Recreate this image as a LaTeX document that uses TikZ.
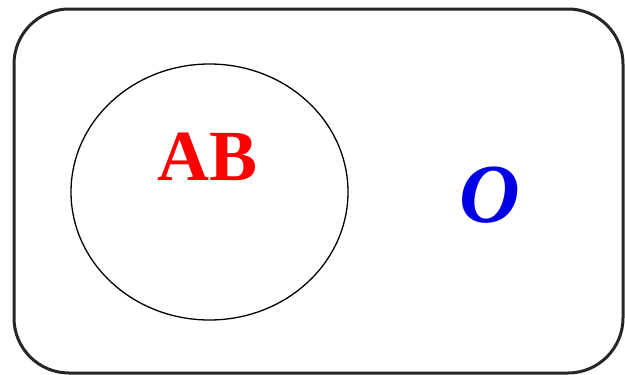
\documentclass[tikz,border=0pt]{standalone}
\usepackage{fontspec}
\setmainfont{Liberation Serif}
\usetikzlibrary{shapes.geometric}
\begin{document}
\begin{tikzpicture}[x=1pt,y=-1pt,
  frame/.style={draw=black!85,line width=3pt,rounded corners=55pt},
  setcirc/.style={draw=black,line width=1.3pt,ellipse,minimum width=277pt,minimum height=256pt,inner sep=0pt},
  lbl/.style={inner sep=0pt,anchor=center}]
\useasboundingbox (0,0) rectangle (625,375);
\fill[white] (0,0) rectangle (625,375);
\draw[frame] (14,9) rectangle (623,373);
\node[setcirc] (A) at (209.5,192) {};
\node[lbl,text=red] (ab) at (208,157) {\fontsize{72}{72}\selectfont\bfseries AB};
\node[lbl,text=blue!90!black] (o) at (490,195) {\fontsize{84}{84}\selectfont\bfseries\itshape O};
\end{tikzpicture}
\end{document}
